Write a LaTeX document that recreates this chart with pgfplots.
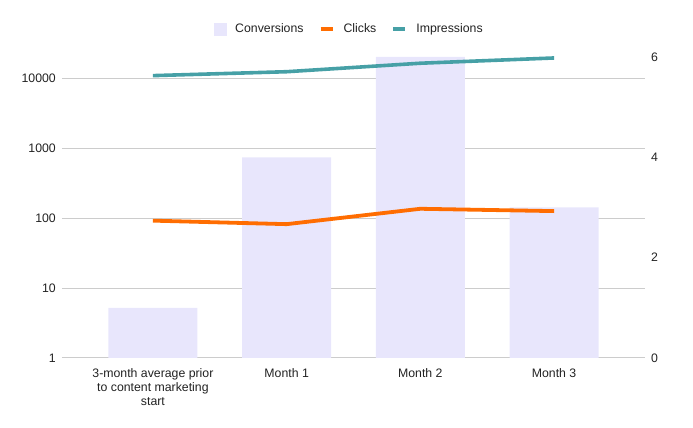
\documentclass[border=0pt]{standalone}
\usepackage{fontspec}
\setmainfont{Liberation Sans}
\usepackage{pgfplots}
\pgfplotsset{compat=1.18}
\definecolor{lav}{RGB}{232,230,252}
\definecolor{clk}{RGB}{255,109,1}
\definecolor{imp}{RGB}{70,160,166}
\definecolor{gridc}{RGB}{204,204,204}
\definecolor{txt}{RGB}{34,34,34}

\pgfplotsset{
  base/.style={
    at={(62pt,70pt)}, anchor=south west,
    scale only axis, width=583pt, height=301pt,
    xmin=-0.68, xmax=3.68,
    tick style={draw=none},
    major tick length=0pt, minor tick length=0pt,
    tick label style={font=\fontsize{12.3}{13.8}\selectfont, text=txt, inner sep=0pt},
  },
}

\begin{document}
\begin{tikzpicture}
\path[use as bounding box] (0,0) rectangle (693pt,428pt);

% left log axis: grid and labels only
\begin{axis}[
  base,
  ymode=log, ymin=1, ymax=20137,
  ytick={1,10,100,1000,10000},
  yticklabels={1,10,100,1000,10000},
  yticklabel shift=6pt,
  ymajorgrids, yminorgrids=false,
  grid style={gridc, line width=1pt},
  axis line style={draw=none},
  xtick={0,1,2,3},
  xticklabels={{3-month average prior\\to content marketing\\start}, Month 1, Month 2, Month 3},
  xticklabel style={align=center, anchor=north},
  xticklabel shift=10.5pt,
]
\end{axis}

% right axis: conversions
\begin{axis}[
  base,
  ymin=0, ymax=6,
  hide x axis,
  axis y line*=right,
  y axis line style={draw=none},
  ytick={0,2,4,6},
  yticklabels={0,2,4,6},
  yticklabel shift=6pt,
]
\addplot[ybar, bar width=89pt, fill=lav, draw=none]
  coordinates {(0,1) (1,4) (2,6) (3,3)};
\end{axis}

% lines on the log scale, with the legend
\begin{axis}[
  base,
  ymode=log, ymin=1, ymax=20137,
  hide axis, clip=false,
  legend columns=-1,
  legend style={
    at={(0.491,1)}, anchor=center, yshift=28pt,
    draw=none, fill=none,
    font=\fontsize{12.3}{14}\selectfont, text=txt,
    nodes={inner sep=0pt, anchor=west},
    /tikz/every odd column/.append style={column sep=9pt},
    /tikz/every even column/.append style={column sep=15pt},
  },
]
\addlegendimage{legend image code/.code={\fill[lav] (0pt,-6pt) rectangle (12pt,6pt);}}
\addlegendentry{Conversions}
\addplot[clk, line width=3.8pt, line join=round,
  legend image code/.code={\draw[clk, line width=4pt] (0pt,0pt) -- (12pt,0pt);}]
  coordinates {(0,92) (1,82) (2,136) (3,126)};
\addlegendentry{Clicks}
\addplot[imp, line width=3.6pt, line join=round,
  legend image code/.code={\draw[imp, line width=4pt] (0pt,0pt) -- (12pt,0pt);}]
  coordinates {(0,10900) (1,12400) (2,16400) (3,19500)};
\addlegendentry{Impressions}
\end{axis}
\end{tikzpicture}
\end{document}
